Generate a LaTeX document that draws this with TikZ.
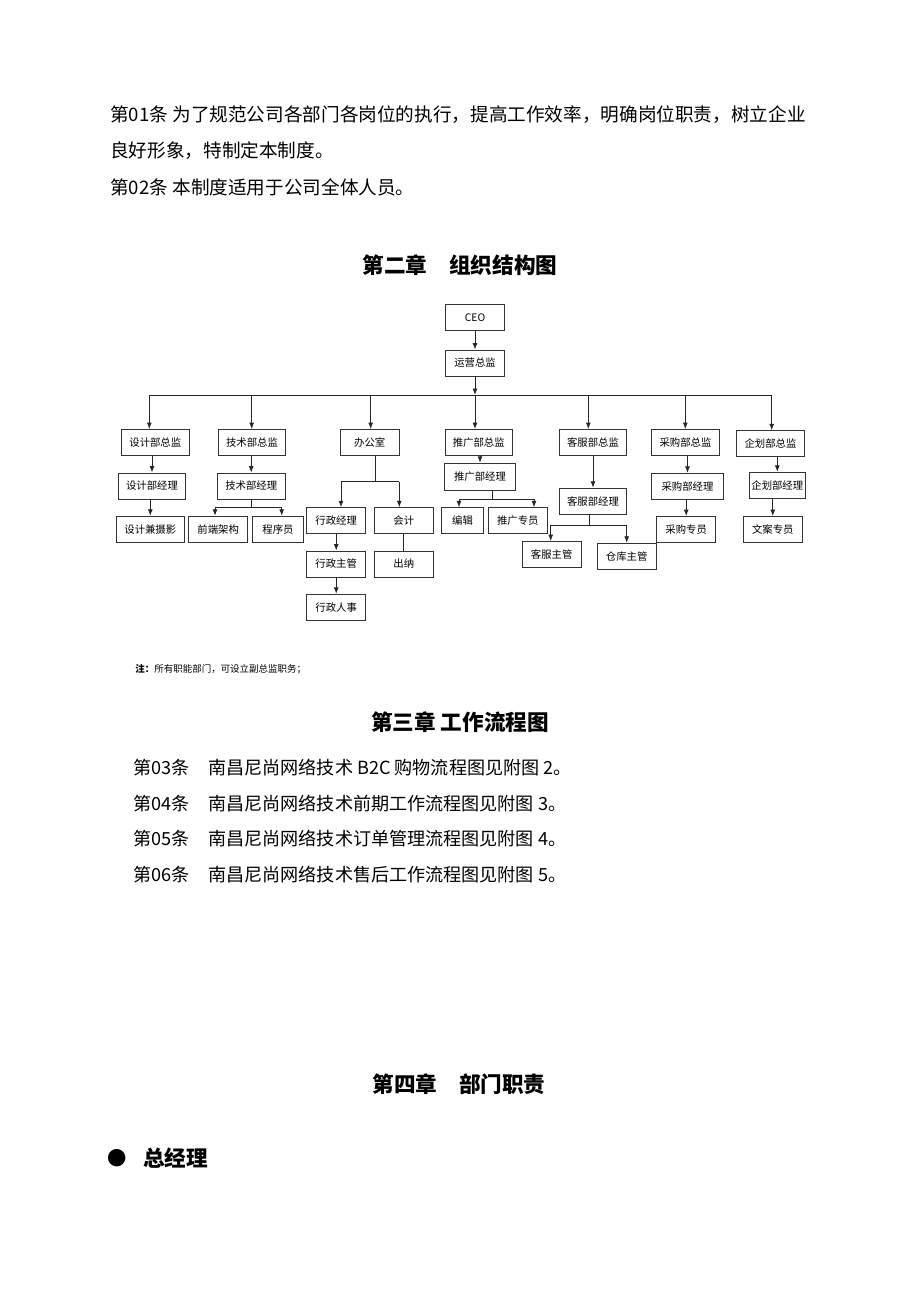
\documentclass[tikz,border=0pt]{standalone}
\usepackage{fontspec}
\setmainfont{Noto Sans CJK SC}
\usetikzlibrary{arrows.meta}

\newcommand\bodyfont{\fontsize{10.6pt}{13pt}\selectfont}
\newcommand\itemfont{\fontsize{10.3pt}{13pt}\selectfont}
\newcommand\chapfont{\fontsize{12.3pt}{15pt}\selectfont\bfseries}
\newcommand\boxfont{\fontsize{5.9pt}{7pt}\selectfont}
\newcommand\notefont{\fontsize{5.4pt}{7pt}\selectfont}

\tikzset{
  box/.style={draw=black!80, line width=0.5pt, minimum height=0.52cm, inner sep=0pt, font=\boxfont},
  wide/.style={box, minimum width=1.35cm},
  mid/.style={box, minimum width=1.18cm},
  link/.style={draw=black!85, line width=0.5pt},
  txt/.style={anchor=west, inner sep=0pt},
}

\begin{document}
\begin{tikzpicture}[x=0.02cm, y=-0.02cm, >={Latex[length=1.3mm,width=1mm]}]
\useasboundingbox (0,0) rectangle (920,1302);

\node[txt, font=\bodyfont] (art01) at (110,115) {第01条 为了规范公司各部门各岗位的执行，提高工作效率，明确岗位职责，树立企业};
\node[txt, font=\bodyfont] (art01b) at (110,151) {良好形象，特制定本制度。};
\node[txt, font=\bodyfont] (art02) at (110,187) {第02条 本制度适用于公司全体人员。};

\node[font=\chapfont] (ch2) at (460,265) {第二章　组织结构图};

\node[mid] (ceo) at (475,317.5) {CEO};
\node[mid] (yyzj) at (475,363) {运营总监};

\node[wide] (sjzj) at (155.3,442.5) {设计部总监};
\node[wide] (jszj) at (252,442.5) {技术部总监};
\node[mid] (bgs) at (369.7,442.5) {办公室};
\node[wide] (tgzj) at (478.7,442.5) {推广部总监};
\node[wide] (kfzj) at (593,442.5) {客服部总监};
\node[wide] (cgzj) at (685.5,442.5) {采购部总监};
\node[wide] (qhzj) at (770.5,443.7) {企划部总监};

\node[wide] (sjjl) at (152,486) {设计部经理};
\node[wide] (sjsy) at (150.3,529.2) {设计兼摄影};
\node[wide] (jsjl) at (251.2,486) {技术部经理};
\node[mid] (qdjg) at (218.2,529.2) {前端架构};
\node[box, minimum width=1.01cm] (cxy) at (278,529.2) {程序员};
\node[mid] (xzjl) at (336.2,520.7) {行政经理};
\node[mid] (kj) at (403.8,520.7) {会计};
\node[mid] (xzzg) at (336.2,564) {行政主管};
\node[mid] (cn) at (403.8,564) {出纳};
\node[mid] (xzrs) at (336.2,607.3) {行政人事};
\node[box, minimum width=1.43cm, minimum height=0.55cm] (tgjl) at (480,477) {推广部经理};
\node[box, minimum width=0.83cm] (bj) at (462.5,520.7) {编辑};
\node[mid] (tgzy) at (517.8,520.7) {推广专员};
\node[wide] (kfjl) at (593,501.2) {客服部经理};
\node[mid] (kfzg) at (551.7,554.5) {客服主管};
\node[mid] (ckzg) at (626.7,556.2) {仓库主管};
\node[box, minimum width=1.43cm] (cgjl) at (687.5,486.3) {采购部经理};
\node[mid] (cgzy) at (686.2,529.5) {采购专员};
\node[box, minimum width=1.13cm] (qhjl) at (777.3,485.3) {企划部经理};
\node[mid] (wazy) at (772.8,529.5) {文案专员};

\coordinate (busL) at (149.3,395);
\coordinate (busR) at (771.7,395);
\coordinate (bus) at (475,395);
\coordinate (d2) at (251.7,395);
\coordinate (d3) at (370.7,395);
\coordinate (d5) at (588.3,395);
\coordinate (d6) at (685.3,395);

\coordinate (jsS) at (251.7,507.3);
\coordinate (jsL) at (215,507.3);
\coordinate (jsR) at (281.7,507.3);
\coordinate (bgS) at (375,481.7);
\coordinate (bgL) at (341,481.7);
\coordinate (bgR) at (399.3,481.7);
\coordinate (tgS) at (492.3,499);
\coordinate (tgL) at (459,499);
\coordinate (tgR) at (534,499);
\coordinate (kfS) at (589,525);
\coordinate (kfL) at (550.7,525);
\coordinate (kfR) at (626.7,525);

\draw[link] (busL) -- (busR);
\draw[link,->] (ceo) -- (yyzj);
\draw[link,->] (yyzj) -- (bus);

\foreach \d/\n in {busL/sjzj, d2/jszj, d3/bgs, bus/tgzj, d5/kfzj, d6/cgzj, busR/qhzj}
  \draw[link,->] (\d) -- (\d |- \n.north);

\foreach \from/\to in {sjzj/sjjl, sjjl/sjsy, jszj/jsjl, xzjl/xzzg, xzzg/xzrs, tgzj/tgjl, kfzj/kfjl, cgzj/cgjl, cgjl/cgzy, qhzj/qhjl, qhjl/wazy}
  \draw[link,->] (\from.south -| \to.north) -- (\to.north);

\draw[link] (kj) -- (cn);

\foreach \mgr/\stem/\lft/\rgt/\ca/\cb in {jsjl/jsS/jsL/jsR/qdjg/cxy, bgs/bgS/bgL/bgR/xzjl/kj, tgjl/tgS/tgL/tgR/bj/tgzy, kfjl/kfS/kfL/kfR/kfzg/ckzg} {
  \draw[link] (\stem |- \mgr.south) -- (\stem);
  \draw[link] (\lft) -- (\rgt);
  \draw[link,->] (\lft) -- (\lft |- \ca.north);
  \draw[link,->] (\rgt) -- (\rgt |- \cb.north);
}

\node[txt, font=\notefont] (note) at (135,669) {\textbf{注：}所有职能部门，可设立副总监职务；};

\node[font=\chapfont] (ch3) at (460,722) {第三章 工作流程图};

\node[txt, font=\itemfont] (art03) at (133,768) {第03条};
\node[txt, font=\itemfont] (flow03) at (208,768) {南昌尼尚网络技术 B2C 购物流程图见附图 2。};
\node[txt, font=\itemfont] (art04) at (133,804) {第04条};
\node[txt, font=\itemfont] (flow04) at (208,804) {南昌尼尚网络技术前期工作流程图见附图 3。};
\node[txt, font=\itemfont] (art05) at (133,839) {第05条};
\node[txt, font=\itemfont] (flow05) at (208,839) {南昌尼尚网络技术订单管理流程图见附图 4。};
\node[txt, font=\itemfont] (art06) at (133,875) {第06条};
\node[txt, font=\itemfont] (flow06) at (208,875) {南昌尼尚网络技术售后工作流程图见附图 5。};

\node[font=\chapfont] (ch4) at (459,1084) {第四章　部门职责};

\node[font=\fontsize{11pt}{13pt}\selectfont] (dot) at (117,1158) {●};
\node[txt, font=\chapfont] (gm) at (143,1158) {总经理};

\end{tikzpicture}
\end{document}
